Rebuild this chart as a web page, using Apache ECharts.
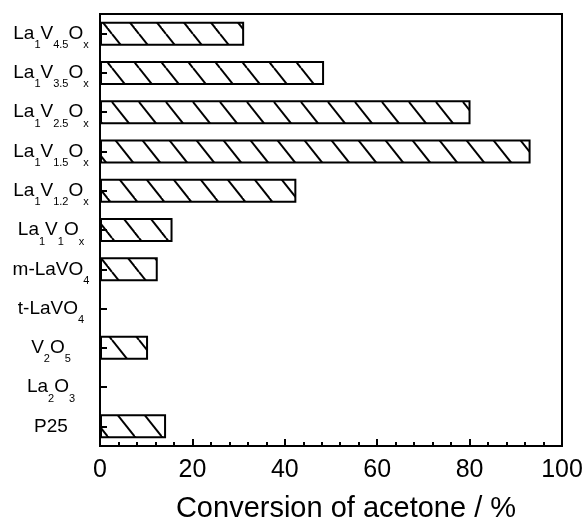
<!DOCTYPE html>
<html>
<head>
<meta charset="utf-8">
<script src="https://cdn.jsdelivr.net/npm/echarts@6/dist/echarts.min.js"></script>
<style>
  html, body { margin: 0; padding: 0; background: #fff; }
  #chart { width: 582px; height: 517px; }
</style>
</head>
<body>
<div id="chart"></div>
<script>
// Catalysts, listed bottom to top; {s|...} marks subscript text
const catalysts = [
  'P25',
  'La{s|2}O{s|3}',
  'V{s|2}O{s|5}',
  't-LaVO{s|4}',
  'm-LaVO{s|4}',
  'La{s|1}V{s|1}O{s|x}',
  'La{s|1}V{s|1.2}O{s|x}',
  'La{s|1}V{s|1.5}O{s|x}',
  'La{s|1}V{s|2.5}O{s|x}',
  'La{s|1}V{s|3.5}O{s|x}',
  'La{s|1}V{s|4.5}O{s|x}'
];
// Acetone conversion (%)
const conversion = [14.3, 0, 10.4, 0, 12.5, 15.7, 42.5, 93.2, 80.2, 48.5, 31.2];
const xTicks = [0, 20, 40, 60, 80, 100];

const FONT = '"Liberation Sans", Arial, Helvetica, sans-serif';

// Diagonal hatch tile ("\" direction), transparent background
function hatchTile() {
  const w = 27, h = 34;
  const c = document.createElement('canvas');
  c.width = w; c.height = h;
  const ctx = c.getContext('2d');
  ctx.strokeStyle = '#000';
  ctx.lineWidth = 2;
  for (let k = -1; k <= 1; k++) {
    ctx.beginPath();
    ctx.moveTo(k * w + 4, 0);
    ctx.lineTo(k * w + 4 + w, h);
    ctx.stroke();
  }
  return c;
}

const chart = echarts.init(document.getElementById('chart'), null, { renderer: 'canvas' });

chart.setOption({
  animation: false,
  backgroundColor: '#fff',
  grid: {
    left: 100, right: 20, top: 14, bottom: 71,
    outerBoundsMode: 'none', containLabel: false,
    show: true, borderColor: '#000', borderWidth: 2, backgroundColor: 'transparent'
  },
  xAxis: {
    type: 'value',
    min: xTicks[0], max: xTicks[xTicks.length - 1], interval: 20,
    name: 'Conversion of acetone / %',
    nameLocation: 'middle',
    nameGap: 48,
    nameTextStyle: { fontFamily: FONT, fontSize: 29, color: '#000', padding: [0, 0, 0, 30] },
    axisLine: { show: true, lineStyle: { color: '#000', width: 2 } },
    axisTick: { show: true, inside: true, length: 7, lineStyle: { color: '#000', width: 2 } },
    minorTick: { show: true, splitNumber: 5, length: 4, lineStyle: { color: '#000', width: 2 } },
    splitLine: { show: false },
    axisLabel: { fontFamily: FONT, fontSize: 25, color: '#000', margin: 12 }
  },
  yAxis: {
    type: 'category',
    data: catalysts,
    axisLine: { show: true, lineStyle: { color: '#000', width: 2 } },
    axisTick: { show: true, inside: true, length: 7, alignWithLabel: true, lineStyle: { color: '#000', width: 2 } },
    splitLine: { show: false },
    axisLabel: {
      interval: 0,
      align: 'center',
      margin: 49,
      fontFamily: FONT,
      fontSize: 19,
      color: '#000',
      rich: {
        s: { fontFamily: FONT, fontSize: 11, color: '#000', padding: [23, 0, 0, 0] }
      }
    }
  },
  series: [{
    type: 'bar',
    data: conversion,
    barWidth: 24,
    itemStyle: {
      color: { image: hatchTile(), repeat: 'repeat' },
      borderColor: '#000',
      borderWidth: 2
    },
    emphasis: { disabled: true }
  }]
});
</script>
</body>
</html>
